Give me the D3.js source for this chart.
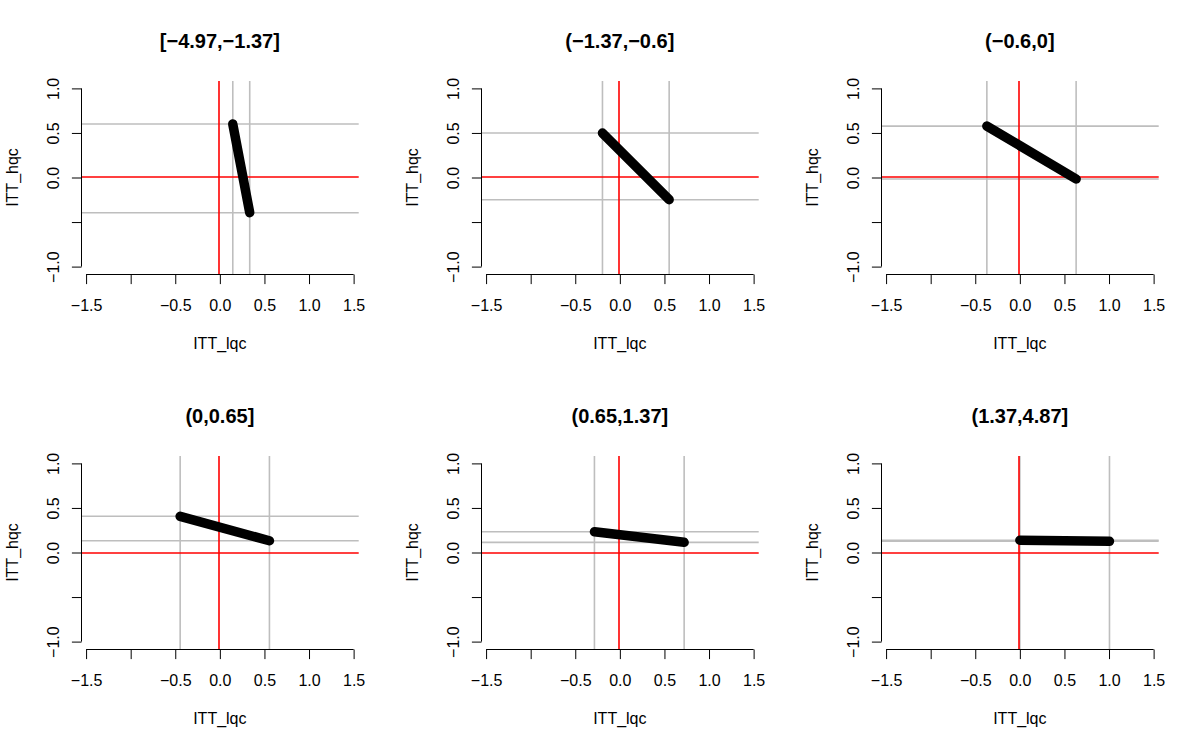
<!DOCTYPE html>
<html>
<head>
<meta charset="utf-8">
<script src="https://cdn.jsdelivr.net/npm/d3@7"></script>
<style>
  body { margin: 0; background: #fff; }
  svg { display: block; font-family: "Liberation Sans", Arial, Helvetica, sans-serif; }
</style>
</head>
<body>
<div id="chart"></div>
<script>
// one panel per group of the cut() variable
let panel_titles = ["[\u22124.97,\u22121.37]", "(\u22121.37,\u22120.6]", "(\u22120.6,0]",
                    "(0,0.65]", "(0.65,1.37]", "(1.37,4.87]"];
// segment endpoints: ITT_lqc (x) and ITT_hqc (y)
let lqc_start = [0.145, -0.195, -0.37, -0.445, -0.285, 0.0];
let lqc_end   = [0.335, 0.553, 0.631, 0.556, 0.721, 1.005];
let hqc_start = [0.600, 0.499, 0.577, 0.406, 0.233, 0.137];
let hqc_end   = [-0.395, -0.249, -0.017, 0.132, 0.114, 0.126];

let x_ticks = [-1.5, -1, -0.5, 0, 0.5, 1, 1.5];
let x_hidden = [-1];          // label dropped by R (overlap)
let y_ticks = [-1, -0.5, 0, 0.5, 1];
let y_hidden = [-0.5];

let x_name = "ITT_lqc", y_name = "ITT_hqc";

let layout = {
  width: 1200, height: 750,
  panel: {w: 400, h: 375, cols: 3},
  region: {left: 81, right: 358.7, top: 81, bottom: 274},
  xlim: [-1.557, 1.557],
  ylim: [-1.083, 1.083],
  tick: 9.6,
  font: {size: 16, title: 20}
};

let fmt = function(v) { return d3.format(".1f")(v).replace("-", "\u2212"); };
// put 1px lines on pixel centres so they stay sharp
let snap = function(v) { return Math.floor(v) + 0.5; };
// 2px line on an even pixel pair (page coords), returned in panel coords
let snap2 = function(v, off) { return 2 * Math.floor((v + off) / 2) + 1 - off; };

let svg = d3.select("#chart").append("svg")
  .attr("width", layout.width).attr("height", layout.height);

let x = d3.scaleLinear().domain(layout.xlim).range([layout.region.left, layout.region.right]);
let y = d3.scaleLinear().domain(layout.ylim).range([layout.region.bottom, layout.region.top]);

let draw_panel = function(i) {
  let col = i % layout.panel.cols, row = Math.floor(i / layout.panel.cols);
  let ox = col * layout.panel.w, oy = row * layout.panel.h;
  let g = svg.append("g").attr("transform", "translate(" + ox + "," + oy + ")");
  let r = layout.region;

  // grey reference lines at the segment ends
  let gv = [lqc_start[i], lqc_end[i]], gh = [hqc_start[i], hqc_end[i]];
  g.selectAll("line.gv").data(gv).enter().append("line").attr("class", "gv")
    .attr("x1", d => x(d)).attr("x2", d => x(d))
    .attr("y1", r.top).attr("y2", r.bottom)
    .attr("stroke", "#bebebe").attr("stroke-width", 1.6);
  g.selectAll("line.gh").data(gh).enter().append("line").attr("class", "gh")
    .attr("x1", r.left).attr("x2", r.right)
    .attr("y1", d => y(d)).attr("y2", d => y(d))
    .attr("stroke", "#bebebe").attr("stroke-width", 1.6);

  // red zero lines
  let zx = snap2(x(0), ox), zy = snap2(y(0), oy);
  g.append("line").attr("class", "zero")
    .attr("x1", zx).attr("x2", zx).attr("y1", r.top).attr("y2", r.bottom)
    .attr("stroke", "#ff0000").attr("stroke-width", 1.6);
  g.append("line").attr("class", "zero")
    .attr("x1", r.left).attr("x2", r.right).attr("y1", zy).attr("y2", zy)
    .attr("stroke", "#ff0000").attr("stroke-width", 1.6);

  // thick segment
  g.append("line")
    .attr("x1", x(lqc_start[i])).attr("y1", y(hqc_start[i]))
    .attr("x2", x(lqc_end[i])).attr("y2", y(hqc_end[i]))
    .attr("stroke", "#000").attr("stroke-width", 9.5).attr("stroke-linecap", "round");

  // x axis
  let ax = g.append("g").attr("transform", "translate(0," + snap(r.bottom) + ")")
    .call(d3.axisBottom(x).tickValues(x_ticks).tickSizeInner(layout.tick).tickSizeOuter(0)
      .tickFormat(d => x_hidden.indexOf(d) >= 0 ? "" : fmt(d)));
  ax.select(".domain").remove();
  ax.append("line").attr("x1", x(x_ticks[0])).attr("x2", x(x_ticks[x_ticks.length - 1]))
    .attr("stroke", "#000");
  ax.selectAll(".tick line").attr("stroke", "#000");
  ax.selectAll(".tick text").attr("y", 36).attr("dy", 0)
    .style("font-size", layout.font.size + "px").style("fill", "#000");

  // y axis
  let ay = g.append("g").attr("transform", "translate(" + snap(r.left) + ",0)")
    .call(d3.axisLeft(y).tickValues(y_ticks).tickSizeInner(layout.tick).tickSizeOuter(0)
      .tickFormat(d => y_hidden.indexOf(d) >= 0 ? "" : fmt(d)));
  ay.select(".domain").remove();
  ay.append("line").attr("y1", y(y_ticks[0])).attr("y2", y(y_ticks[y_ticks.length - 1]))
    .attr("stroke", "#000");
  ay.selectAll(".tick line").attr("stroke", "#000");
  ay.selectAll(".tick text")
    .attr("x", 0).attr("y", -22.7).attr("dy", 0)
    .attr("transform", "rotate(-90)")
    .attr("text-anchor", "middle")
    .style("font-size", layout.font.size + "px").style("fill", "#000");

  // axis names
  let cx = (r.left + r.right) / 2, cy = (r.top + r.bottom) / 2;
  g.append("text").attr("x", cx).attr("y", 349).attr("text-anchor", "middle")
    .style("font-size", layout.font.size + "px").text(x_name);
  g.append("text").attr("transform", "translate(18," + cy + ") rotate(-90)")
    .attr("text-anchor", "middle")
    .style("font-size", layout.font.size + "px").text(y_name);

  // title
  g.append("text").attr("x", cx).attr("y", 48.3).attr("text-anchor", "middle")
    .style("font-size", layout.font.title + "px").style("font-weight", "bold")
    .text(panel_titles[i]);
};

for (let i = 0; i < panel_titles.length; i++) draw_panel(i);
</script>
</body>
</html>
